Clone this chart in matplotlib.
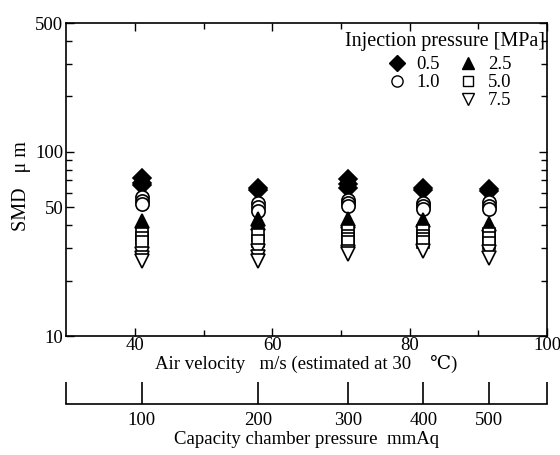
import numpy as np
import matplotlib.pyplot as plt
from matplotlib.lines import Line2D
from matplotlib.ticker import FixedLocator, NullFormatter

plt.rcParams['font.family'] = ['Liberation Serif', 'DejaVu Serif']
plt.rcParams['font.size'] = 13.5

# air velocity (m/s) for each capacity chamber pressure (mmAq)
air_velocity = [41, 58, 71, 82, 91.5]
cap_pressure = [100, 200, 300, 400, 500]

smd_05 = [[72, 68, 66], [64, 62], [71, 67, 64], [63.5, 62], [63, 61.5]]
smd_10 = [[57, 54, 52], [53, 50, 48], [55, 53, 51], [53, 51, 49], [53.5, 51, 49]]
smd_25 = [[42], [43, 41], [43, 42], [42.5], [40.5]]
smd_50 = [[36, 34, 32.5], [35.5, 33], [37, 35, 33.5, 32.5], [37, 35, 33.5, 32.5], [36, 34, 32]]
smd_75 = [[28, 26.5, 25.5], [29, 27, 25.5], [28.5, 28], [29], [28.5, 26.5]]

series = [
    ('0.5', smd_05, dict(marker='D', color='k', ms=9)),
    ('1.0', smd_10, dict(marker='o', mfc='white', mec='k', ms=9.5)),
    ('2.5', smd_25, dict(marker='^', color='k', ms=10)),
    ('5.0', smd_50, dict(marker='s', mfc='white', mec='k', ms=8.5)),
    ('7.5', smd_75, dict(marker='v', mfc='white', mec='k', ms=10)),
]

fig = plt.figure(figsize=(5.6, 4.55), dpi=100)
ax = fig.add_axes([0.118, 0.2615, 0.859, 0.6875])

handles = {}
for name, vals, st in series:
    xs, ys = [], []
    for v, group in zip(air_velocity, vals):
        xs += [v] * len(group)
        ys += group
    ax.plot(xs, ys, linestyle='none', mew=1.2, **st)
    handles[name] = Line2D([], [], linestyle='none', mew=1.0,
                           **{**st, 'ms': st['ms'] * 0.85})

ax.set_yscale('log')
ax.set_xlim(30, 100)
ax.set_ylim(10, 500)
ax.yaxis.set_major_locator(FixedLocator([10, 50, 100, 500]))
ax.yaxis.set_minor_locator(FixedLocator([20, 30, 40, 60, 70, 80, 90, 200, 300, 400]))
ax.set_yticklabels(['10', '50', '100', '500'])
ax.yaxis.set_minor_formatter(NullFormatter())
ax.set_xticks([40, 60, 80, 100])
ax.set_xticks([50, 70, 90], minor=True)
ax.tick_params(which='both', direction='in', top=True, right=True, width=1)
ax.tick_params(which='major', length=6)
ax.tick_params(which='minor', length=4)
ax.tick_params(axis='x', pad=1)
ax.tick_params(axis='y', pad=2)
for s in ax.spines.values():
    s.set_linewidth(1.2)

ax.set_xlabel('Air velocity   m/s (estimated at 30    \u2103)', labelpad=0)
ax.set_ylabel('SMD   \u03bc m', fontsize=14.5)
ax.yaxis.set_label_coords(-0.072, 0.48)

# legend: title as text, entries in two columns below it
ax.text(0.995, 0.94, 'Injection pressure [MPa]', transform=ax.transAxes,
        ha='right', va='center', fontsize=14.5)
blank = Line2D([], [], linestyle='none')
ax.legend([handles['0.5'], handles['1.0'], blank,
           handles['2.5'], handles['5.0'], handles['7.5']],
          ['0.5', '1.0', '', '2.5', '5.0', '7.5'],
          ncol=2, frameon=False, loc='upper right', bbox_to_anchor=(0.945, 0.925),
          handlelength=1.2, handletextpad=0.45, columnspacing=0.9,
          labelspacing=0.05, borderpad=0.0, fontsize=13.5)

# capacity chamber pressure scale below
ax2 = fig.add_axes([0.118, 0.112, 0.859, 0.0001])
ax2.set_xlim(30, 100)
ax2.set_yticks([])
for side in ['top', 'left', 'right']:
    ax2.spines[side].set_visible(False)
ax2.spines['bottom'].set_linewidth(1.2)
ax2.set_xticks(air_velocity)
ax2.set_xticklabels([str(p) for p in cap_pressure])
ax2.set_xticks([30, 100], minor=True)
ax2.tick_params(which='both', direction='in', length=16, width=1.2, pad=6)
ax2.set_xlabel('Capacity chamber pressure  mmAq', labelpad=1)

fig.savefig('out.png', dpi=100)
